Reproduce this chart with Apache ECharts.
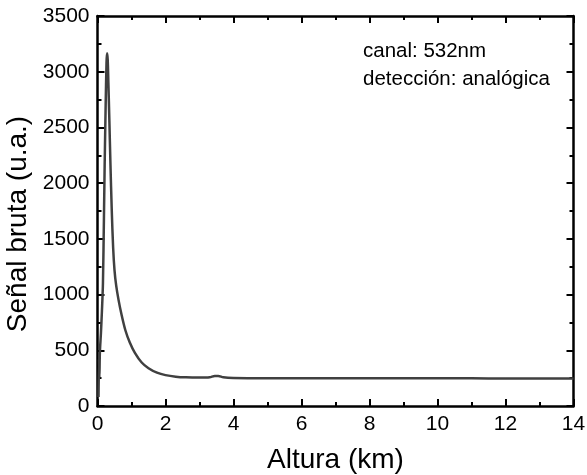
<!DOCTYPE html>
<html>
<head>
<meta charset="utf-8">
<script src="https://cdn.jsdelivr.net/npm/echarts@6/dist/echarts.min.js"></script>
<style>html,body{margin:0;padding:0;background:#fff;}#c{width:587px;height:475px;}</style>
</head>
<body>
<div id="c"></div>
<script>
// Altura (km)
const altura = [0.03,0.045,0.055,0.07,0.10,0.13,0.16,0.19,0.21,0.24,0.265,0.28,0.30,0.32,0.35,0.38,0.42,0.46,0.50,0.55,0.62,0.70,0.82,0.95,1.1,1.3,1.5,1.75,2.0,2.3,2.6,3.0,3.3,3.45,3.55,3.7,4.0,5,6,7,8,9,10,11,12,13,14];
// Señal bruta (u.a.)
const senal = [80,420,250,480,650,850,1100,1700,2150,2700,3080,3165,3110,2900,2550,2180,1750,1420,1220,1080,950,830,680,570,477,390,339,299,277,263,257,255,258,270,270,258,252,250,250,249,249,248,248,248,247,247,247];
const xTicks = [0,2,4,6,8,10,12,14];
const yTicks = [0,500,1000,1500,2000,2500,3000,3500];
const annot = ['canal: 532nm','detección: analógica'];

const F = 'Liberation Sans, Arial, sans-serif';
const chart = echarts.init(document.getElementById('c'), null, {renderer:'canvas'});
const axBase = (min,max,interval) => ({
  type:'value', min:min, max:max, interval:interval,
  axisLine:{show:true, onZero:false, lineStyle:{color:'#000', width:2.5}},
  axisTick:{show:true, inside:true, length:7, lineStyle:{color:'#000', width:2}},
  minorTick:{show:true, splitNumber:2, length:4, lineStyle:{color:'#000', width:2}},
  splitLine:{show:false},
  axisLabel:{show:true, color:'#000', fontSize:21, fontFamily:F, margin:8, formatter:(v)=>String(v)}
});
const xb = axBase(xTicks[0], xTicks[xTicks.length-1], xTicks[1]-xTicks[0]);
const yb = axBase(yTicks[0], yTicks[yTicks.length-1], yTicks[1]-yTicks[0]);
chart.setOption({
  animation:false,
  backgroundColor:'#fff',
  grid:{left:97.5, right:13.5, top:16, bottom:69, containLabel:false, outerBoundsMode:'none'},
  xAxis:[
    Object.assign({}, xb, {position:'bottom', name:'Altura (km)', nameLocation:'middle', nameGap:40,
      nameTextStyle:{fontSize:28, fontFamily:F, color:'#000'}}),
    Object.assign({}, xb, {position:'top', axisLabel:{show:false}})
  ],
  yAxis:[
    Object.assign({}, yb, {position:'left', name:'Señal bruta (u.a.)', nameLocation:'middle', nameGap:57,
      nameTextStyle:{fontSize:28, fontFamily:F, color:'#000', padding:[0,26,0,0]}}),
    Object.assign({}, yb, {position:'right', axisLabel:{show:false}})
  ],
  series:[{
    type:'line', xAxisIndex:0, yAxisIndex:0,
    data: altura.map((a,i)=>[a, senal[i]]),
    showSymbol:false, smooth:0.3,
    lineStyle:{color:'#404040', width:2.5}
  }],
  graphic:[
    {type:'text', left:363, top:41, style:{text:annot[0], fontSize:20.5, fontFamily:F, fill:'#000'}},
    {type:'text', left:363, top:69, style:{text:annot[1], fontSize:20.5, fontFamily:F, fill:'#000'}}
  ]
});
</script>
</body>
</html>
